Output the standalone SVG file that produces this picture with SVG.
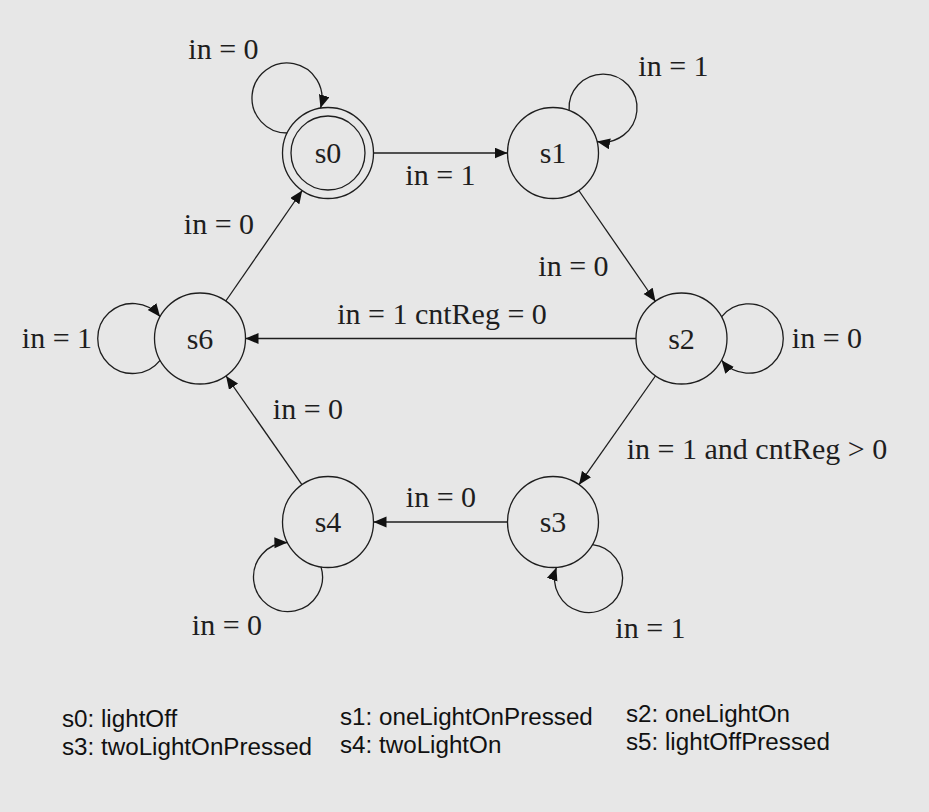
<svg xmlns="http://www.w3.org/2000/svg" width="929" height="812" viewBox="0 0 929 812">
<style>
.bg{fill:#e7e7e7}
.node{fill:none;stroke:#1e1e1e;stroke-width:1.3}
.edge{fill:none;stroke:#1e1e1e;stroke-width:1.3}
.lbl{font-family:"Liberation Serif","Times New Roman",serif;font-size:30px;fill:#1e1e1e;text-anchor:middle}
.leg{font-family:"Liberation Sans",Arial,sans-serif;font-size:24.2px;fill:#111}
</style>
<defs>
<marker id="arr" markerUnits="userSpaceOnUse" markerWidth="14" markerHeight="12" refX="13" refY="5.5" orient="auto">
<path d="M0,0 L13,5.5 L0,11 z" fill="#111"/>
</marker>
</defs>
<rect class="bg" x="0" y="0" width="929" height="812"/>

<g id="s0">
<circle class="node" cx="328" cy="153" r="45.5"/>
<circle class="node" cx="328" cy="153" r="37"/>
<text class="lbl" x="328" y="163">s0</text>
</g>
<g id="s1">
<circle class="node" cx="553" cy="153" r="45.5"/>
<text class="lbl" x="553" y="163">s1</text>
</g>
<g id="s2">
<circle class="node" cx="681.5" cy="338.5" r="45.5"/>
<text class="lbl" x="681.5" y="348.5">s2</text>
</g>
<g id="s6">
<circle class="node" cx="200" cy="338.5" r="45.5"/>
<text class="lbl" x="200" y="348.5">s6</text>
</g>
<g id="s4">
<circle class="node" cx="328" cy="522" r="45.5"/>
<text class="lbl" x="328" y="532">s4</text>
</g>
<g id="s3">
<circle class="node" cx="553" cy="522" r="45.5"/>
<text class="lbl" x="553" y="532">s3</text>
</g>

<g id="edges">
<path class="edge" marker-end="url(#arr)" d="M373.5,153 L507.5,153"/>
<path class="edge" marker-end="url(#arr)" d="M578.8,190.5 L655.5,301.5"/>
<path class="edge" marker-end="url(#arr)" d="M636,338.5 L245.5,338.5"/>
<path class="edge" marker-end="url(#arr)" d="M655.4,376 L579,484.7"/>
<path class="edge" marker-end="url(#arr)" d="M507.5,522 L373.5,522"/>
<path class="edge" marker-end="url(#arr)" d="M301.9,484.7 L226.1,376"/>
<path class="edge" marker-end="url(#arr)" d="M225.8,301 L302.2,190.5"/>

<path class="edge" marker-end="url(#arr)" d="M287.1,133 A35,35 0 1 1 320.5,108.1"/>
<path class="edge" marker-end="url(#arr)" d="M569.1,110.5 A34,34 0 1 1 597,141.5"/>
<path class="edge" marker-end="url(#arr)" d="M160.1,360.3 A35,35 0 1 1 160.1,316.7"/>
<path class="edge" marker-end="url(#arr)" d="M721.5,316.8 A34.7,34.7 0 1 1 721.5,360.2"/>
<path class="edge" marker-end="url(#arr)" d="M321,566.9 A34.5,34.5 0 1 1 287.4,542.5"/>
<path class="edge" marker-end="url(#arr)" d="M592.4,544.7 A34,34 0 1 1 556.4,567.4"/>

<text class="lbl" x="440.5" y="185">in = 1</text>
<text class="lbl" x="573.5" y="276">in = 0</text>
<text class="lbl" x="442" y="324">in = 1 cntReg = 0</text>
<text class="lbl" x="757" y="459">in = 1 and cntReg &gt; 0</text>
<text class="lbl" x="441" y="507">in = 0</text>
<text class="lbl" x="308" y="419">in = 0</text>
<text class="lbl" x="219" y="234">in = 0</text>
<text class="lbl" x="223.5" y="59">in = 0</text>
<text class="lbl" x="673.5" y="76">in = 1</text>
<text class="lbl" x="57" y="348">in = 1</text>
<text class="lbl" x="827" y="348">in = 0</text>
<text class="lbl" x="227" y="635">in = 0</text>
<text class="lbl" x="650.5" y="638">in = 1</text>
</g>

<g id="legend">
<text class="leg"><tspan x="62" y="727">s0: lightOff</tspan><tspan x="62" y="755">s3: twoLightOnPressed</tspan></text>
<text class="leg"><tspan x="340" y="725">s1: oneLightOnPressed</tspan><tspan x="340" y="753">s4: twoLightOn</tspan></text>
<text class="leg"><tspan x="626" y="722">s2: oneLightOn</tspan><tspan x="626" y="750">s5: lightOffPressed</tspan></text>
</g>
</svg>
